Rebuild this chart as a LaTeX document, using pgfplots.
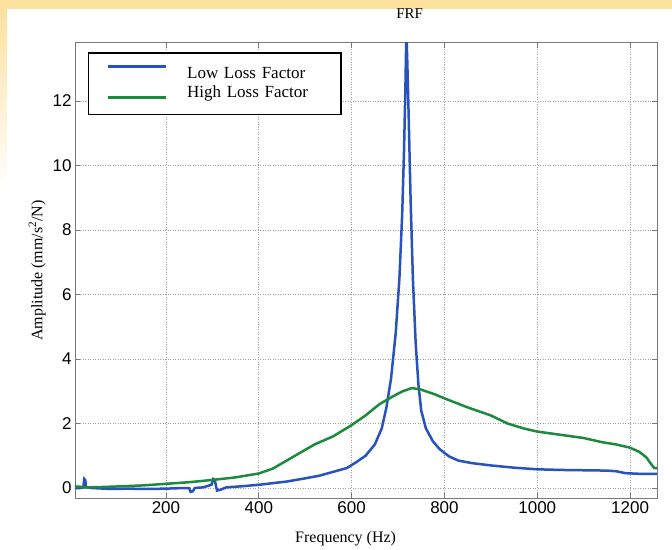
\documentclass[border=0pt]{standalone}
\usepackage{fontspec}
\setmainfont{Liberation Serif}
\newfontfamily\tickfont{Liberation Sans}
\usepackage{pgfplots}
\pgfplotsset{compat=1.18}
\definecolor{lowblue}{RGB}{40,82,190}
\definecolor{highgreen}{RGB}{28,138,62}
\definecolor{creamtop}{RGB}{252,224,155}
\definecolor{framegray}{RGB}{120,120,120}
\pgfplotsset{
  legup/.style={legend image code/.code={\draw[##1, line width=3.2pt] (0pt,8pt) -- (58pt,8pt); \path[draw=none] (0pt,0pt) -- (78pt,0pt);}},
  legdown/.style={legend image code/.code={\draw[##1, line width=3.2pt] (0pt,-4pt) -- (58pt,-4pt); \path[draw=none] (0pt,0pt) -- (78pt,0pt);}},
}

\begin{document}
\begin{tikzpicture}[x=1pt,y=1pt]
% page background
\fill[white] (0,0) rectangle (672,549);
\fill[top color=creamtop, bottom color=white] (0,360) rectangle (672,549);
\fill[white] (7,0) rectangle (672,540);
\begin{axis}[
    at={(75pt,51pt)}, anchor=south west,
    scale only axis, width=582pt, height=455pt,
    xmin=4, xmax=1258, ymin=-0.31, ymax=13.8,
    xtick={200,400,...,1200}, ytick={0,2,...,12},
    /pgf/number format/assume math mode=true,
    /pgf/number format/1000 sep={},
    tick label style={font=\tickfont\fontsize{17}{17}\selectfont},
    tick align=inside, major tick length=5pt,
    tick style={framegray, line width=0.8pt},
    axis line style={framegray, line width=1pt},
    grid=major,
    major grid style={gray!75, line width=0.7pt, dash pattern=on 1pt off 1.5pt},
    title={FRF},
    title style={font=\fontsize{15}{15}\selectfont, at={(axis description cs:0.575,1.052)}, anchor=center},
    xlabel={Frequency (Hz)},
    xlabel style={font=\fontsize{16}{16}\selectfont, at={(axis description cs:0.465,-0.065)}, anchor=north},
    ylabel={Amplitude (mm/s\textsuperscript{2}/N)},
    ylabel style={font=\fontsize{16}{16}\selectfont},
    legend style={at={(axis description cs:0.022,0.98)}, anchor=north west,
        draw=black, line width=1.5pt, fill=white,
        font=\fontsize{17}{19}\selectfont,
        inner xsep=18pt, inner ysep=12pt, row sep=1pt,
        nodes={text height=12pt, text depth=4pt, inner sep=1pt},
        /tikz/every even column/.append style={text width=135pt}},
    legend cell align=left,
]
\addplot[lowblue, line width=2.5pt, legup]
coordinates {
(4,0.0) (15,0.0) (22,0.02) (24,0.28) (26,0.25) (28,0.02) (40,0.0) (80,-0.03)
(120,-0.02) (160,-0.03) (200,-0.02) (240,0.0) (250,0.0) (253,-0.12) (258,-0.1)
(262,0.0) (280,0.02) (298,0.1) (302,0.28) (305,0.25) (310,-0.08) (318,-0.05)
(330,0.02) (360,0.05) (400,0.1) (430,0.15) (460,0.2) (500,0.3) (530,0.38)
(560,0.5) (590,0.62) (610,0.8) (630,1.0) (650,1.35) (665,1.85) (675,2.5)
(685,3.4) (695,4.8) (703,6.5) (709,8.5) (713,10.5) (716,12.5) (718,14.2)
(720,13.2) (723,11.5) (727,9.0) (732,6.5) (738,4.5) (744,3.2) (750,2.4)
(760,1.85) (775,1.45) (790,1.2) (810,0.98) (830,0.85) (860,0.77) (900,0.7)
(950,0.63) (1000,0.58) (1050,0.56) (1100,0.55) (1150,0.54) (1170,0.52)
(1190,0.46) (1220,0.44) (1258,0.44)
};
\addlegendentry{Low Loss Factor}
\addplot[highgreen, line width=2.5pt, legdown]
coordinates {
(4,0.05) (30,0.02) (60,0.03) (100,0.05) (150,0.08) (200,0.13) (250,0.18)
(300,0.25) (350,0.33) (400,0.45) (430,0.6) (460,0.85) (490,1.1) (520,1.35)
(560,1.6) (600,1.95) (630,2.25) (660,2.6) (690,2.85) (710,3.0) (730,3.1)
(750,3.05) (780,2.9) (800,2.78) (850,2.5) (900,2.25) (936,2.0) (970,1.85)
(1000,1.75) (1050,1.65) (1100,1.55) (1140,1.42) (1170,1.35) (1200,1.25)
(1220,1.12) (1235,0.95) (1245,0.75) (1252,0.62) (1258,0.62)
};
\addlegendentry{High Loss Factor}
\end{axis}
\end{tikzpicture}
\end{document}
